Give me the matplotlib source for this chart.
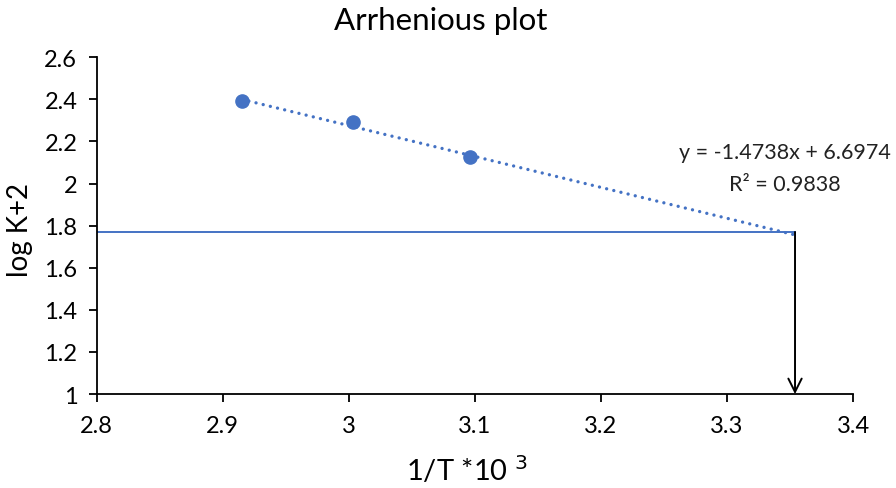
import numpy as np
import matplotlib
matplotlib.use("Agg")
import matplotlib.pyplot as plt

plt.rcParams['font.family'] = ['Lato', 'DejaVu Sans']

# Data
inv_T = [2.915, 3.003, 3.096]          # 1/T * 10^3
log_k2 = [2.39, 2.29, 2.125]           # log K + 2
x_target = 3.354                       # extrapolated 1/T*10^3
y_target = 1.77                        # log K + 2 at target
eq_text = "y = -1.4738x + 6.6974"
r2_text = "R² = 0.9838"
x_ticks = [2.8, 2.9, 3.0, 3.1, 3.2, 3.3, 3.4]
x_ticklabels = ["2.8", "2.9", "3", "3.1", "3.2", "3.3", "3.4"]
y_ticks = [1.0, 1.2, 1.4, 1.6, 1.8, 2.0, 2.2, 2.4, 2.6]
y_ticklabels = ["1", "1.2", "1.4", "1.6", "1.8", "2", "2.2", "2.4", "2.6"]

blue = "#4472C4"

fig = plt.figure(figsize=(8.96, 4.89), dpi=100)
ax = fig.add_axes([0.108, 0.192, 0.844, 0.689])

# trendline (linear fit, forecast forward)
coef = np.polyfit(inv_T, log_k2, 1)
xs = np.array([inv_T[0], x_target])
ax.plot(xs, np.polyval(coef, xs), linestyle=(0, (0.01, 2.2)), color=blue, lw=2.4,
        dash_capstyle='round', zorder=2)

ax.plot(inv_T, log_k2, 'o', color=blue, markersize=9.5, zorder=3)

# horizontal reference line
ax.plot([2.8, x_target], [y_target, y_target], color=blue, lw=1.4, zorder=2)

# arrow down to x-axis
ax.annotate("", xy=(x_target, 1.0), xytext=(x_target, y_target),
            arrowprops=dict(arrowstyle='->', color='black', lw=1.4,
                            mutation_scale=24, shrinkA=0, shrinkB=0))

ax.text(3.346, 2.149, eq_text, ha='center', va='center', fontsize=15.5, color='#222222')
ax.text(3.346, 1.997, r2_text, ha='center', va='center', fontsize=15.5, color='#222222')

ax.set_xlim(2.8, 3.4)
ax.set_ylim(1.0, 2.6)
ax.set_xticks(x_ticks)
ax.set_xticklabels(x_ticklabels)
ax.set_yticks(y_ticks)
ax.set_yticklabels(y_ticklabels)
for s in ['top', 'right']:
    ax.spines[s].set_visible(False)
for s in ['left', 'bottom']:
    ax.spines[s].set_linewidth(1.3)
ax.tick_params(axis='both', direction='out', length=6, width=1.3,
               labelsize=17, colors='black')
ax.tick_params(axis='x', pad=9)
ax.tick_params(axis='y', pad=8)

ax.set_title("Arrhenious plot", fontsize=22.5, x=0.455, pad=20)
ax.set_xlabel(r"1/T *10 $^{3}$", fontsize=21, va='center')
ax.xaxis.set_label_coords(0.49, (395 - 470) / 337)
ax.set_ylabel("log K+2", fontsize=20, va='center')
ax.yaxis.set_label_coords((20 - 97) / 756, 0.49)

fig.savefig("out.png", dpi=100)
